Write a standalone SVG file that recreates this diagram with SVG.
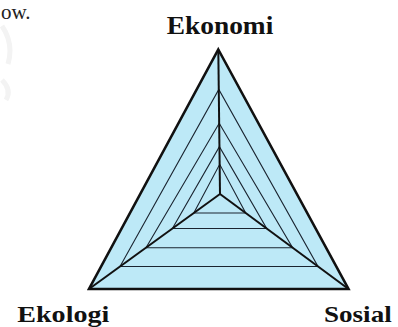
<svg xmlns="http://www.w3.org/2000/svg" width="398" height="327" viewBox="0 0 398 327">
<style>
.lbl{font-family:"Liberation Serif","Times New Roman",serif;font-weight:bold;fill:#111}
.outer{fill:#bde9f7;stroke:#111;stroke-width:2.6;stroke-linejoin:miter}
.axis{stroke:#111;stroke-width:2;fill:none}
.grid{stroke:#1a2430;stroke-width:1.1;fill:none}
.wm{stroke:#f3f3f3;stroke-width:5;fill:none}
</style>
<rect width="398" height="327" fill="#fff"/>
<path class="wm" d="M2,26 Q14,44 8,64"/>
<path class="wm" d="M2,80 Q12,90 6,100"/>
<text x="1" y="19" font-family="'Liberation Serif',serif" font-size="21" fill="#222">ow.</text>
<g id="triangle">
<polygon class="outer" points="218.3,49.5 348.5,289 89,289"/>
</g>
<g id="connectors">
<polyline class="grid" points="120,266.5 218.8,89.5 318,266.5 120,266.5"/>
<polyline class="grid" points="146,247.7 219.2,123.3 292.6,247.7 146,247.7"/>
<polyline class="grid" points="172.4,228.5 219.4,146.7 266.7,228.5 172.4,228.5"/>
<polyline class="grid" points="193.8,213 219.7,164.3 245.7,213 193.8,213"/>
<line class="axis" x1="218.3" y1="49.5" x2="220" y2="194"/>
<line class="axis" x1="220" y1="194" x2="89" y2="289"/>
<line class="axis" x1="220" y1="194" x2="348.5" y2="289"/>
</g>
<g id="ekonomi"><text class="lbl" x="166.7" y="34" font-size="26" textLength="106.6" lengthAdjust="spacingAndGlyphs">Ekonomi</text></g>
<g id="ekologi"><text class="lbl" x="17.3" y="321.7" font-size="24" textLength="92" lengthAdjust="spacingAndGlyphs">Ekologi</text></g>
<g id="sosial"><text class="lbl" x="324" y="321.7" font-size="24" textLength="67.7" lengthAdjust="spacingAndGlyphs">Sosial</text></g>
</svg>
